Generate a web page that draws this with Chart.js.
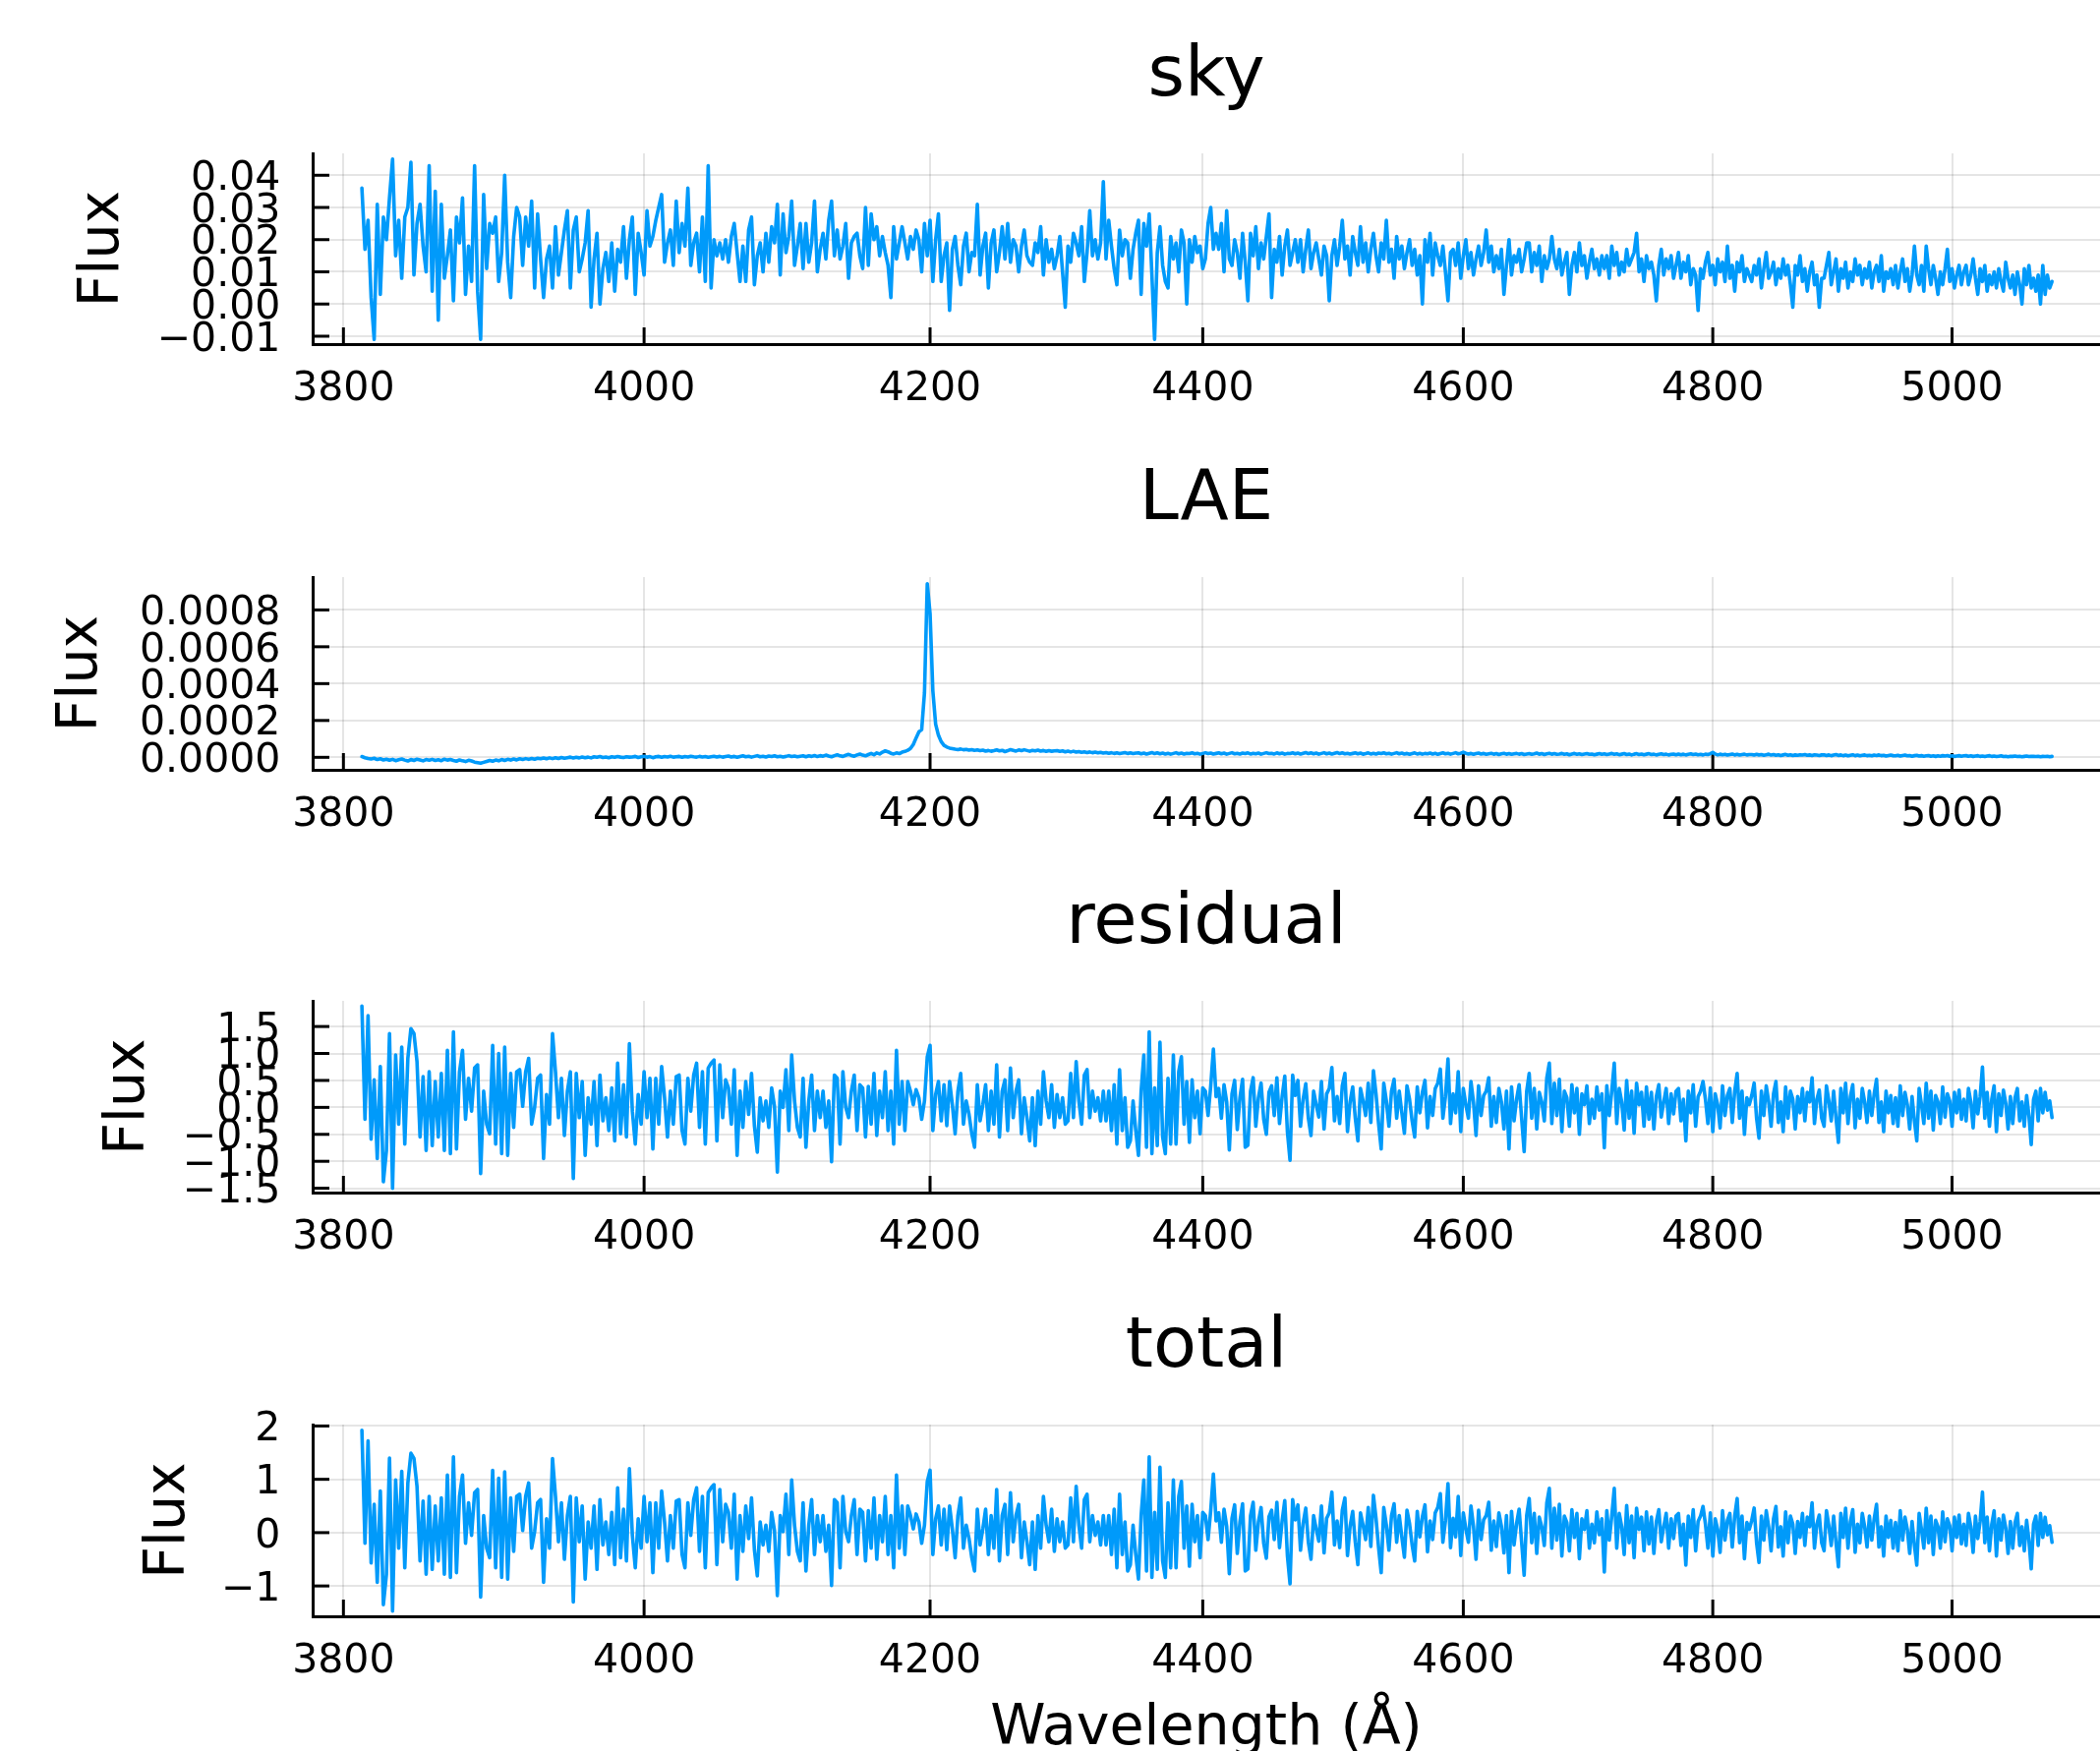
<!DOCTYPE html>
<html>
<head>
<meta charset="utf-8">
<title>sky / LAE / residual / total</title>
<script src="https://cdn.jsdelivr.net/npm/chart.js@4.4.1/dist/chart.umd.min.js"></script>
<style>
  html, body { margin: 0; padding: 0; background: #fff; }
  #figura { position: relative; width: 2136px; height: 1781px; overflow: hidden; background: #fff; }
  #figura canvas { position: absolute; left: 0; }
</style>
</head>
<body>
<div id="figura">
  <canvas id="graficoSky" width="2136" height="431" style="top:0px"></canvas>
  <canvas id="graficoLae" width="2136" height="431" style="top:431px"></canvas>
  <canvas id="graficoResidual" width="2136" height="431" style="top:862px"></canvas>
  <canvas id="graficoTotal" width="2136" height="488" style="top:1293px"></canvas>
</div>
<script>
// wavelength grid (Å): 3812 .. 5086, one sample every 2 Å (each row below = 60 Å)
const waveStart = 3812;
const waveStep = 2;

const xTicks = [3800, 4000, 4200, 4400, 4600, 4800, 5000];
const xTickLabels = ["3800", "4000", "4200", "4400", "4600", "4800", "5000"];

const skyTicks = [-0.01, 0.0, 0.01, 0.02, 0.03, 0.04];
const skyTickLabels = ["\u22120.01", "0.00", "0.01", "0.02", "0.03", "0.04"];
const laeTicks = [0, 0.0002, 0.0004, 0.0006, 0.0008];
const laeTickLabels = ["0.0000", "0.0002", "0.0004", "0.0006", "0.0008"];
const residualTicks = [-1.5, -1.0, -0.5, 0.0, 0.5, 1.0, 1.5];
const residualTickLabels = ["\u22121.5", "\u22121.0", "\u22120.5", "0.0", "0.5", "1.0", "1.5"];
const totalTicks = [-1, 0, 1, 2];
const totalTickLabels = ["\u22121", "0", "1", "2"];

const skyFlux = [
  0.036, 0.017, 0.026, 0.002, -0.011, 0.031, 0.003, 0.027, 0.020, 0.033, 0.045, 0.015, 0.026, 0.008, 0.027, 0.030, 0.044, 0.009, 0.025, 0.031, 0.018, 0.010, 0.043, 0.004, 0.035, -0.005, 0.031, 0.008, 0.015, 0.023,
  0.001, 0.027, 0.019, 0.033, 0.003, 0.018, 0.007, 0.043, 0.004, -0.011, 0.034, 0.011, 0.025, 0.022, 0.027, 0.007, 0.016, 0.040, 0.013, 0.002, 0.021, 0.030, 0.027, 0.012, 0.027, 0.018, 0.032, 0.005, 0.028, 0.014,
  0.002, 0.014, 0.018, 0.005, 0.024, 0.009, 0.016, 0.023, 0.029, 0.005, 0.023, 0.027, 0.010, 0.014, 0.019, 0.029, -0.001, 0.014, 0.022, 0.000, 0.011, 0.016, 0.007, 0.019, 0.004, 0.017, 0.013, 0.024, 0.008, 0.020,
  0.027, 0.003, 0.022, 0.016, 0.009, 0.029, 0.018, 0.021, 0.026, 0.030, 0.034, 0.013, 0.019, 0.023, 0.012, 0.032, 0.016, 0.025, 0.018, 0.036, 0.012, 0.019, 0.022, 0.010, 0.027, 0.007, 0.043, 0.005, 0.020, 0.015,
  0.019, 0.014, 0.020, 0.013, 0.021, 0.025, 0.016, 0.007, 0.018, 0.007, 0.023, 0.027, 0.006, 0.015, 0.019, 0.010, 0.022, 0.013, 0.024, 0.019, 0.031, 0.009, 0.028, 0.016, 0.021, 0.032, 0.012, 0.018, 0.025, 0.011,
  0.025, 0.013, 0.019, 0.032, 0.010, 0.017, 0.022, 0.014, 0.026, 0.032, 0.015, 0.023, 0.014, 0.018, 0.025, 0.008, 0.019, 0.021, 0.022, 0.015, 0.011, 0.030, 0.012, 0.028, 0.020, 0.024, 0.015, 0.021, 0.016, 0.012,
  0.002, 0.024, 0.014, 0.019, 0.024, 0.019, 0.014, 0.021, 0.017, 0.023, 0.020, 0.010, 0.025, 0.015, 0.026, 0.007, 0.020, 0.028, 0.007, 0.015, 0.019, -0.002, 0.017, 0.021, 0.012, 0.006, 0.018, 0.022, 0.010, 0.016,
  0.015, 0.031, 0.009, 0.018, 0.022, 0.005, 0.019, 0.023, 0.010, 0.016, 0.024, 0.014, 0.025, 0.013, 0.020, 0.018, 0.010, 0.018, 0.023, 0.015, 0.013, 0.012, 0.019, 0.016, 0.024, 0.009, 0.020, 0.013, 0.017, 0.011,
  0.015, 0.021, 0.010, -0.001, 0.018, 0.013, 0.022, 0.019, 0.015, 0.024, 0.007, 0.016, 0.029, 0.015, 0.020, 0.014, 0.019, 0.038, 0.014, 0.026, 0.018, 0.011, 0.006, 0.023, 0.015, 0.020, 0.019, 0.008, 0.017, 0.022,
  0.026, 0.003, 0.025, 0.018, 0.028, 0.009, -0.011, 0.016, 0.024, 0.012, 0.007, 0.005, 0.021, 0.014, 0.019, 0.010, 0.023, 0.019, 0.000, 0.020, 0.013, 0.021, 0.016, 0.018, 0.011, 0.014, 0.025, 0.030, 0.017, 0.022,
  0.017, 0.025, 0.010, 0.029, 0.014, 0.012, 0.020, 0.016, 0.008, 0.022, 0.013, 0.001, 0.022, 0.015, 0.024, 0.011, 0.019, 0.014, 0.021, 0.028, 0.002, 0.017, 0.013, 0.021, 0.009, 0.018, 0.023, 0.012, 0.016, 0.020,
  0.013, 0.020, 0.010, 0.017, 0.023, 0.011, 0.016, 0.019, 0.014, 0.009, 0.018, 0.015, 0.001, 0.015, 0.020, 0.012, 0.018, 0.026, 0.014, 0.018, 0.009, 0.021, 0.016, 0.012, 0.024, 0.013, 0.019, 0.010, 0.017, 0.022,
  0.015, 0.010, 0.019, 0.014, 0.026, 0.013, 0.017, 0.008, 0.021, 0.014, 0.018, 0.011, 0.016, 0.020, 0.012, 0.017, 0.009, 0.015, 0.000, 0.020, 0.013, 0.022, 0.009, 0.019, 0.015, 0.012, 0.018, 0.010, 0.001, 0.016,
  0.017, 0.012, 0.019, 0.008, 0.015, 0.020, 0.011, 0.016, 0.009, 0.014, 0.018, 0.012, 0.016, 0.023, 0.013, 0.018, 0.010, 0.015, 0.011, 0.017, 0.003, 0.012, 0.020, 0.009, 0.015, 0.013, 0.017, 0.010, 0.014, 0.019,
  0.019, 0.010, 0.016, 0.012, 0.018, 0.007, 0.015, 0.011, 0.014, 0.021, 0.014, 0.011, 0.017, 0.009, 0.013, 0.016, 0.003, 0.012, 0.016, 0.010, 0.019, 0.012, 0.015, 0.008, 0.013, 0.017, 0.011, 0.014, 0.009, 0.015,
  0.011, 0.015, 0.008, 0.018, 0.012, 0.016, 0.009, 0.013, 0.010, 0.017, 0.012, 0.014, 0.016, 0.022, 0.010, 0.014, 0.007, 0.015, 0.011, 0.013, 0.009, 0.001, 0.012, 0.017, 0.009, 0.014, 0.011, 0.015, 0.008, 0.012,
  0.016, 0.008, 0.013, 0.010, 0.015, 0.006, 0.011, 0.009, -0.002, 0.011, 0.008, 0.013, 0.016, 0.009, 0.012, 0.006, 0.014, 0.010, 0.013, 0.007, 0.018, 0.008, 0.012, 0.004, 0.013, 0.010, 0.015, 0.007, 0.011, 0.009,
  0.007, 0.012, 0.009, 0.014, 0.005, 0.011, 0.016, 0.008, 0.010, 0.013, 0.006, 0.011, 0.008, 0.014, 0.009, 0.012, 0.006, -0.001, 0.012, 0.009, 0.015, 0.007, 0.011, 0.004, 0.010, 0.013, 0.006, 0.009, -0.001, 0.008,
  0.008, 0.012, 0.016, 0.006, 0.010, 0.014, 0.004, 0.011, 0.008, 0.013, 0.005, 0.010, 0.007, 0.014, 0.009, 0.012, 0.006, 0.011, 0.008, 0.013, 0.005, 0.010, 0.012, 0.007, 0.015, 0.004, 0.010, 0.008, 0.011, 0.006,
  0.012, 0.005, 0.010, 0.014, 0.007, 0.011, 0.004, 0.009, 0.018, 0.009, 0.006, 0.012, 0.004, 0.018, 0.011, 0.006, 0.012, 0.008, 0.003, 0.010, 0.006, 0.011, 0.017, 0.007, 0.011, 0.005, 0.009, 0.012, 0.006, 0.010,
  0.012, 0.006, 0.009, 0.014, 0.008, 0.003, 0.011, 0.007, 0.012, 0.004, 0.009, 0.006, 0.010, 0.005, 0.011, 0.007, 0.004, 0.013, 0.008, 0.005, 0.009, 0.003, 0.010, 0.006, 0.000, 0.011, 0.006, 0.012, 0.005, 0.008,
  0.004, 0.009, 0.000, 0.012, 0.003, 0.009, 0.005, 0.007,
];

const laeFlux = [
  4e-6, -2e-6, -6e-6, -9e-6, -5e-6, -12e-6, -8e-6, -14e-6, -10e-6, -16e-6, -11e-6, -18e-6, -13e-6, -9e-6, -15e-6, -20e-6, -12e-6, -17e-6, -10e-6, -14e-6, -19e-6, -12e-6, -16e-6, -11e-6, -17e-6, -13e-6, -18e-6, -10e-6, -15e-6, -12e-6,
  -17e-6, -21e-6, -14e-6, -19e-6, -23e-6, -16e-6, -20e-6, -26e-6, -29e-6, -32e-6, -27e-6, -22e-6, -17e-6, -21e-6, -15e-6, -19e-6, -12e-6, -17e-6, -11e-6, -15e-6, -9e-6, -14e-6, -8e-6, -12e-6, -7e-6, -11e-6, -6e-6, -10e-6, -5e-6, -8e-6,
  -4e-6, -8e-6, -3e-6, -7e-6, -2e-6, -6e-6, -1e-6, -5e-6, -2e-6, 1e-6, -4e-6, 0, -3e-6, 2e-6, -2e-6, 1e-6, -3e-6, 3e-6, 0, 4e-6, -1e-6, 2e-6, -2e-6, 3e-6, 0, 4e-6, 1e-6, -1e-6, 3e-6, 1e-6,
  2e-6, 5e-6, -1e-6, 3e-6, 6e-6, 1e-6, 4e-6, -2e-6, 3e-6, 5e-6, 0, 4e-6, 2e-6, 6e-6, 1e-6, 3e-6, 5e-6, 0, 4e-6, 2e-6, 6e-6, 3e-6, 1e-6, 5e-6, 2e-6, 4e-6, 0, 3e-6, 6e-6, 2e-6,
  5e-6, 1e-6, 4e-6, 7e-6, 2e-6, 5e-6, 0, 4e-6, 8e-6, 3e-6, 6e-6, 1e-6, 5e-6, 9e-6, 3e-6, 6e-6, 2e-6, 7e-6, 4e-6, 8e-6, 3e-6, 6e-6, 2e-6, 5e-6, 9e-6, 4e-6, 7e-6, 3e-6, 6e-6, 8e-6,
  3e-6, 8e-6, 5e-6, 10e-6, 4e-6, 9e-6, 6e-6, 12e-6, 7e-6, 3e-6, 9e-6, 14e-6, 8e-6, 5e-6, 11e-6, 16e-6, 10e-6, 6e-6, 13e-6, 18e-6, 12e-6, 8e-6, 15e-6, 21e-6, 14e-6, 24e-6, 18e-6, 28e-6, 35e-6, 30e-6,
  22e-6, 18e-6, 24e-6, 20e-6, 28e-6, 32e-6, 38e-6, 48e-6, 70e-6, 105e-6, 138e-6, 150e-6, 350e-6, 942e-6, 780e-6, 360e-6, 180e-6, 120e-6, 85e-6, 65e-6, 56e-6, 50e-6, 47e-6, 44e-6, 42e-6, 45e-6, 41e-6, 43e-6, 39e-6, 42e-6,
  38e-6, 40e-6, 36e-6, 39e-6, 34e-6, 37e-6, 33e-6, 36e-6, 40e-6, 35e-6, 38e-6, 31e-6, 36e-6, 42e-6, 38e-6, 34e-6, 40e-6, 36e-6, 41e-6, 37e-6, 33e-6, 38e-6, 35e-6, 39e-6, 34e-6, 37e-6, 32e-6, 36e-6, 33e-6, 35e-6,
  36e-6, 32e-6, 35e-6, 30e-6, 34e-6, 29e-6, 33e-6, 28e-6, 31e-6, 27e-6, 30e-6, 26e-6, 29e-6, 25e-6, 28e-6, 24e-6, 27e-6, 23e-6, 26e-6, 22e-6, 25e-6, 21e-6, 24e-6, 20e-6, 23e-6, 26e-6, 21e-6, 24e-6, 20e-6, 23e-6,
  24e-6, 19e-6, 23e-6, 18e-6, 22e-6, 26e-6, 20e-6, 24e-6, 19e-6, 23e-6, 18e-6, 22e-6, 17e-6, 21e-6, 25e-6, 19e-6, 23e-6, 18e-6, 22e-6, 20e-6, 24e-6, 19e-6, 22e-6, 17e-6, 21e-6, 25e-6, 20e-6, 23e-6, 18e-6, 21e-6,
  24e-6, 19e-6, 23e-6, 17e-6, 21e-6, 25e-6, 19e-6, 22e-6, 18e-6, 23e-6, 20e-6, 24e-6, 18e-6, 22e-6, 19e-6, 23e-6, 17e-6, 21e-6, 25e-6, 20e-6, 22e-6, 18e-6, 24e-6, 19e-6, 23e-6, 17e-6, 21e-6, 20e-6, 24e-6, 19e-6,
  23e-6, 18e-6, 22e-6, 26e-6, 20e-6, 24e-6, 19e-6, 23e-6, 17e-6, 21e-6, 25e-6, 19e-6, 23e-6, 18e-6, 22e-6, 26e-6, 20e-6, 24e-6, 19e-6, 22e-6, 18e-6, 21e-6, 24e-6, 19e-6, 23e-6, 17e-6, 20e-6, 24e-6, 18e-6, 22e-6,
  18e-6, 23e-6, 20e-6, 24e-6, 19e-6, 22e-6, 17e-6, 21e-6, 25e-6, 19e-6, 23e-6, 18e-6, 21e-6, 16e-6, 20e-6, 24e-6, 18e-6, 22e-6, 17e-6, 21e-6, 19e-6, 23e-6, 18e-6, 22e-6, 16e-6, 20e-6, 24e-6, 19e-6, 22e-6, 17e-6,
  21e-6, 25e-6, 19e-6, 22e-6, 28e-6, 22e-6, 18e-6, 21e-6, 16e-6, 20e-6, 23e-6, 18e-6, 21e-6, 16e-6, 19e-6, 22e-6, 17e-6, 20e-6, 15e-6, 19e-6, 22e-6, 17e-6, 20e-6, 16e-6, 19e-6, 21e-6, 17e-6, 20e-6, 15e-6, 18e-6,
  20e-6, 16e-6, 19e-6, 23e-6, 17e-6, 20e-6, 15e-6, 19e-6, 22e-6, 17e-6, 20e-6, 16e-6, 18e-6, 21e-6, 16e-6, 19e-6, 14e-6, 18e-6, 21e-6, 16e-6, 19e-6, 15e-6, 18e-6, 20e-6, 16e-6, 18e-6, 14e-6, 17e-6, 20e-6, 16e-6,
  19e-6, 15e-6, 18e-6, 21e-6, 16e-6, 19e-6, 14e-6, 17e-6, 20e-6, 15e-6, 18e-6, 13e-6, 17e-6, 20e-6, 15e-6, 18e-6, 14e-6, 17e-6, 20e-6, 15e-6, 17e-6, 13e-6, 16e-6, 19e-6, 15e-6, 17e-6, 13e-6, 16e-6, 18e-6, 14e-6,
  18e-6, 14e-6, 17e-6, 13e-6, 16e-6, 19e-6, 15e-6, 18e-6, 14e-6, 16e-6, 13e-6, 17e-6, 15e-6, 20e-6, 27e-6, 18e-6, 13e-6, 17e-6, 14e-6, 16e-6, 12e-6, 15e-6, 18e-6, 13e-6, 16e-6, 12e-6, 15e-6, 17e-6, 13e-6, 15e-6,
  15e-6, 12e-6, 16e-6, 13e-6, 15e-6, 11e-6, 14e-6, 17e-6, 12e-6, 15e-6, 11e-6, 14e-6, 10e-6, 13e-6, 16e-6, 11e-6, 14e-6, 10e-6, 13e-6, 11e-6, 14e-6, 12e-6, 15e-6, 11e-6, 13e-6, 10e-6, 14e-6, 12e-6, 10e-6, 13e-6,
  14e-6, 10e-6, 13e-6, 9e-6, 12e-6, 15e-6, 10e-6, 13e-6, 9e-6, 12e-6, 8e-6, 11e-6, 14e-6, 9e-6, 12e-6, 8e-6, 11e-6, 13e-6, 9e-6, 11e-6, 8e-6, 12e-6, 10e-6, 13e-6, 9e-6, 11e-6, 7e-6, 10e-6, 12e-6, 9e-6,
  8e-6, 11e-6, 7e-6, 10e-6, 12e-6, 8e-6, 10e-6, 6e-6, 9e-6, 11e-6, 7e-6, 9e-6, 6e-6, 8e-6, 10e-6, 6e-6, 8e-6, 5e-6, 8e-6, 6e-6, 9e-6, 7e-6, 10e-6, 6e-6, 8e-6, 5e-6, 7e-6, 9e-6, 6e-6, 8e-6,
  9e-6, 6e-6, 8e-6, 5e-6, 7e-6, 9e-6, 5e-6, 7e-6, 4e-6, 7e-6, 9e-6, 5e-6, 7e-6, 4e-6, 6e-6, 8e-6, 4e-6, 6e-6, 3e-6, 6e-6, 5e-6, 7e-6, 4e-6, 6e-6, 3e-6, 5e-6, 7e-6, 4e-6, 6e-6, 5e-6,
  4e-6, 6e-6, 3e-6, 5e-6, 4e-6, 6e-6, 3e-6, 5e-6,
];

const residualFlux = [
  1.88, -0.22, 1.70, -0.59, 0.51, -0.95, 0.76, -1.38, -0.80, 1.37, -1.50, 0.97, -0.31, 1.12, -0.68, 0.91, 1.46, 1.37, 0.85, -0.55, 0.57, -0.80, 0.66, -0.71, 0.48, -0.55, 0.63, -0.80, 1.06, -0.86,
  1.40, -0.77, 0.66, 1.06, -0.22, 0.54, -0.07, 0.73, 0.79, -1.23, 0.30, -0.31, -0.49, 1.15, -0.68, 1.00, -0.86, 1.12, -0.89, 0.63, -0.37, 0.66, 0.70, 0.02, 0.66, 0.91, -0.31, 0.00, 0.54, 0.60,
  -0.95, 0.24, -0.31, 1.37, 0.66, -0.19, 0.54, -0.52, 0.30, 0.66, -1.32, 0.63, -0.19, 0.48, -0.89, 0.18, -0.31, 0.48, -0.71, 0.60, -0.25, 0.18, -0.43, 0.36, -0.62, 0.82, -0.49, 0.42, -0.55, 1.18,
  -0.07, -0.68, 0.24, -0.31, 0.66, -0.19, 0.54, -0.77, 0.54, -0.31, 0.76, 0.18, -0.55, 0.30, -0.31, 0.57, 0.60, -0.43, -0.68, 0.54, -0.07, 0.60, 0.82, -0.37, 0.66, -0.68, 0.73, 0.82, 0.88, -0.62,
  0.79, -0.19, 0.51, 0.36, -0.31, 0.70, -0.89, 0.30, -0.37, 0.48, -0.13, 0.63, -0.34, -0.83, 0.18, -0.25, 0.12, -0.37, 0.36, 0.02, -1.20, 0.30, 0.00, 0.70, -0.43, 0.97, 0.12, -0.37, -0.55, 0.54,
  -0.74, 0.12, 0.60, -0.43, 0.30, -0.19, 0.30, -0.37, 0.12, -1.01, 0.60, 0.54, -0.68, 0.66, 0.00, -0.19, 0.30, 0.60, -0.43, 0.42, 0.36, -0.55, 0.39, -0.31, 0.63, -0.52, 0.30, -0.19, 0.66, -0.43,
  0.30, -0.68, 1.06, -0.31, 0.48, -0.43, 0.48, 0.30, 0.05, 0.33, 0.18, -0.22, 0.12, 0.94, 1.15, -0.43, 0.24, 0.48, -0.25, 0.42, -0.34, 0.48, 0.05, -0.49, 0.30, 0.63, -0.31, 0.12, -0.13, -0.49,
  -0.74, 0.42, -0.25, 0.05, 0.42, -0.43, 0.30, -0.31, 0.79, -0.55, 0.30, 0.51, -0.43, 0.73, -0.19, 0.30, 0.51, -0.49, 0.18, -0.19, -0.62, 0.18, -0.71, 0.30, -0.31, 0.66, 0.12, -0.19, 0.42, -0.37,
  0.24, -0.19, 0.18, -0.31, -0.25, 0.63, -0.19, 0.85, 0.12, -0.31, 0.60, 0.70, -0.19, 0.30, -0.07, 0.18, -0.25, 0.30, -0.25, 0.30, -0.43, 0.42, -0.68, 0.70, -0.43, 0.18, -0.74, -0.62, 0.12, -0.43,
  -0.89, 0.30, 0.97, -0.74, 1.40, -0.86, 0.36, -0.71, 1.21, -0.55, -0.86, 0.54, -0.68, 0.97, -0.68, 0.66, 0.94, -0.31, 0.48, -0.65, 0.51, -0.19, 0.30, -0.49, 0.36, 0.30, -0.15, 0.40, 1.08, 0.20,
  0.35, -0.20, 0.42, 0.10, -0.79, 0.25, 0.50, -0.41, 0.18, 0.52, -0.74, -0.70, 0.30, 0.55, -0.35, 0.18, 0.45, -0.22, -0.50, 0.28, 0.40, -0.15, 0.55, -0.30, 0.20, 0.58, -0.45, -0.98, 0.60, 0.22,
  0.50, -0.35, 0.15, 0.44, -0.20, -0.52, 0.30, 0.05, -0.18, 0.48, -0.40, 0.25, 0.35, 0.74, -0.25, 0.20, -0.30, 0.40, 0.63, -0.45, 0.10, 0.38, -0.20, -0.62, 0.35, 0.12, -0.15, 0.45, -0.28, 0.68,
  0.25, -0.30, -0.77, 0.45, 0.12, -0.35, 0.30, 0.52, -0.20, 0.30, -0.10, -0.48, 0.40, 0.15, -0.25, -0.55, 0.38, -0.10, 0.28, 0.50, -0.38, 0.20, -0.15, 0.35, 0.45, 0.71, -0.20, 0.20, 0.90, -0.30,
  0.25, -0.10, 0.66, -0.45, 0.35, 0.05, -0.20, 0.48, 0.10, -0.52, 0.40, -0.15, 0.22, 0.30, 0.55, -0.35, 0.20, -0.28, 0.35, 0.10, -0.40, 0.30, -0.77, 0.38, -0.25, 0.15, 0.42, -0.20, -0.82, 0.30,
  0.63, -0.20, 0.35, -0.40, 0.28, 0.10, -0.25, 0.55, 0.82, -0.30, 0.45, -0.15, 0.52, -0.45, 0.30, 0.18, -0.35, 0.42, -0.10, 0.35, -0.50, 0.25, 0.05, 0.40, -0.30, 0.15, -0.20, 0.38, -0.05, 0.25,
  -0.75, 0.40, -0.15, 0.30, 0.82, -0.30, 0.35, 0.10, -0.42, 0.50, -0.20, 0.30, -0.48, 0.45, 0.05, 0.28, -0.35, 0.38, -0.22, 0.28, -0.40, 0.20, 0.42, -0.18, 0.10, 0.35, -0.30, 0.25, -0.12, 0.30,
  0.35, -0.25, 0.15, -0.62, 0.30, -0.10, 0.42, -0.35, 0.20, 0.30, 0.48, 0.15, -0.30, 0.36, -0.45, 0.25, 0.05, -0.38, 0.40, -0.15, 0.22, 0.35, -0.28, 0.30, 0.63, -0.20, 0.30, -0.50, 0.18, 0.05,
  0.22, 0.45, -0.20, -0.57, 0.30, -0.15, 0.40, 0.10, -0.35, 0.25, 0.48, -0.28, 0.10, -0.45, 0.38, -0.20, 0.30, 0.15, -0.40, 0.20, -0.10, 0.35, -0.25, 0.28, 0.10, 0.55, -0.30, 0.15, 0.32, -0.20,
  -0.35, 0.40, 0.12, -0.25, 0.30, -0.20, -0.65, 0.35, -0.10, 0.45, -0.30, 0.20, 0.42, -0.38, 0.15, -0.20, 0.35, 0.10, -0.28, 0.30, -0.15, 0.25, 0.52, -0.28, 0.10, -0.45, 0.30, -0.10, 0.22, -0.30,
  0.18, -0.35, 0.40, -0.15, 0.28, 0.05, -0.40, 0.20, -0.25, -0.62, 0.35, 0.05, -0.30, 0.45, -0.20, 0.30, -0.42, 0.22, 0.10, -0.30, 0.38, -0.18, 0.25, 0.12, -0.35, 0.28, -0.10, 0.32, -0.22, 0.15,
  -0.25, 0.35, 0.10, -0.38, 0.30, -0.12, 0.20, 0.75, -0.20, 0.28, -0.35, 0.15, 0.40, -0.45, 0.25, -0.15, 0.32, 0.08, -0.40, 0.20, -0.30, 0.18, 0.35, -0.25, 0.10, -0.35, 0.22, -0.15, -0.69, 0.15,
  0.30, -0.25, 0.35, -0.10, 0.28, -0.05, 0.12, -0.19,
];

const totalFlux = [
  1.92, -0.20, 1.72, -0.57, 0.53, -0.93, 0.78, -1.35, -0.78, 1.40, -1.47, 0.99, -0.29, 1.15, -0.66, 0.93, 1.49, 1.39, 0.87, -0.53, 0.59, -0.78, 0.68, -0.69, 0.50, -0.53, 0.65, -0.78, 1.08, -0.84,
  1.42, -0.75, 0.68, 1.08, -0.20, 0.56, -0.05, 0.75, 0.81, -1.21, 0.32, -0.29, -0.47, 1.17, -0.66, 1.02, -0.84, 1.14, -0.87, 0.65, -0.35, 0.68, 0.72, 0.04, 0.68, 0.93, -0.29, 0.02, 0.56, 0.62,
  -0.93, 0.26, -0.29, 1.39, 0.68, -0.17, 0.56, -0.50, 0.32, 0.68, -1.30, 0.65, -0.17, 0.50, -0.87, 0.20, -0.29, 0.50, -0.69, 0.62, -0.23, 0.20, -0.41, 0.38, -0.60, 0.84, -0.47, 0.44, -0.53, 1.20,
  -0.05, -0.66, 0.26, -0.29, 0.68, -0.17, 0.56, -0.75, 0.56, -0.29, 0.78, 0.20, -0.53, 0.32, -0.29, 0.59, 0.62, -0.41, -0.66, 0.56, -0.05, 0.62, 0.84, -0.35, 0.68, -0.66, 0.75, 0.84, 0.90, -0.60,
  0.81, -0.17, 0.53, 0.38, -0.29, 0.72, -0.87, 0.32, -0.35, 0.50, -0.11, 0.65, -0.32, -0.81, 0.20, -0.23, 0.14, -0.35, 0.38, 0.04, -1.18, 0.32, 0.02, 0.72, -0.41, 0.99, 0.14, -0.35, -0.53, 0.56,
  -0.72, 0.14, 0.62, -0.41, 0.32, -0.17, 0.32, -0.35, 0.14, -0.99, 0.62, 0.56, -0.66, 0.68, 0.02, -0.17, 0.32, 0.62, -0.41, 0.44, 0.38, -0.53, 0.41, -0.29, 0.65, -0.50, 0.32, -0.17, 0.68, -0.41,
  0.32, -0.66, 1.08, -0.29, 0.50, -0.41, 0.50, 0.32, 0.07, 0.35, 0.20, -0.20, 0.14, 0.96, 1.17, -0.41, 0.26, 0.50, -0.23, 0.44, -0.32, 0.50, 0.07, -0.47, 0.32, 0.65, -0.29, 0.14, -0.11, -0.47,
  -0.72, 0.44, -0.23, 0.07, 0.44, -0.41, 0.32, -0.29, 0.81, -0.53, 0.32, 0.53, -0.41, 0.75, -0.17, 0.32, 0.53, -0.47, 0.20, -0.17, -0.60, 0.20, -0.69, 0.32, -0.29, 0.68, 0.14, -0.17, 0.44, -0.35,
  0.26, -0.17, 0.20, -0.29, -0.23, 0.65, -0.17, 0.87, 0.14, -0.29, 0.62, 0.72, -0.17, 0.32, -0.05, 0.20, -0.23, 0.32, -0.23, 0.32, -0.41, 0.44, -0.66, 0.72, -0.41, 0.20, -0.72, -0.60, 0.14, -0.41,
  -0.87, 0.32, 0.99, -0.72, 1.42, -0.84, 0.38, -0.69, 1.23, -0.53, -0.84, 0.56, -0.66, 0.99, -0.66, 0.68, 0.96, -0.29, 0.50, -0.63, 0.53, -0.17, 0.32, -0.47, 0.38, 0.32, -0.13, 0.42, 1.10, 0.22,
  0.37, -0.18, 0.44, 0.12, -0.77, 0.27, 0.52, -0.39, 0.20, 0.54, -0.72, -0.68, 0.32, 0.57, -0.33, 0.20, 0.47, -0.20, -0.48, 0.30, 0.42, -0.13, 0.57, -0.28, 0.22, 0.60, -0.43, -0.96, 0.62, 0.24,
  0.52, -0.33, 0.17, 0.46, -0.18, -0.50, 0.32, 0.07, -0.16, 0.50, -0.38, 0.27, 0.37, 0.76, -0.23, 0.22, -0.28, 0.42, 0.65, -0.43, 0.12, 0.40, -0.18, -0.60, 0.37, 0.14, -0.13, 0.47, -0.26, 0.70,
  0.27, -0.28, -0.75, 0.47, 0.14, -0.33, 0.32, 0.54, -0.18, 0.32, -0.08, -0.46, 0.42, 0.17, -0.23, -0.53, 0.40, -0.08, 0.30, 0.52, -0.36, 0.22, -0.13, 0.37, 0.47, 0.73, -0.18, 0.22, 0.92, -0.28,
  0.27, -0.08, 0.68, -0.43, 0.37, 0.07, -0.18, 0.50, 0.12, -0.50, 0.42, -0.13, 0.24, 0.32, 0.57, -0.33, 0.22, -0.26, 0.37, 0.12, -0.38, 0.32, -0.75, 0.40, -0.23, 0.17, 0.44, -0.18, -0.80, 0.32,
  0.64, -0.19, 0.36, -0.39, 0.29, 0.11, -0.24, 0.56, 0.83, -0.29, 0.46, -0.14, 0.53, -0.44, 0.31, 0.19, -0.34, 0.43, -0.09, 0.36, -0.49, 0.26, 0.06, 0.41, -0.29, 0.16, -0.19, 0.39, -0.04, 0.26,
  -0.74, 0.41, -0.14, 0.31, 0.83, -0.29, 0.36, 0.11, -0.41, 0.51, -0.19, 0.31, -0.47, 0.46, 0.06, 0.29, -0.34, 0.39, -0.21, 0.29, -0.39, 0.21, 0.43, -0.17, 0.11, 0.36, -0.29, 0.26, -0.11, 0.31,
  0.36, -0.24, 0.16, -0.61, 0.31, -0.09, 0.43, -0.34, 0.21, 0.31, 0.49, 0.16, -0.29, 0.37, -0.44, 0.26, 0.06, -0.37, 0.41, -0.14, 0.23, 0.36, -0.27, 0.31, 0.64, -0.19, 0.31, -0.49, 0.19, 0.06,
  0.23, 0.46, -0.19, -0.56, 0.31, -0.14, 0.41, 0.11, -0.34, 0.26, 0.49, -0.27, 0.11, -0.44, 0.39, -0.19, 0.31, 0.16, -0.39, 0.21, -0.09, 0.36, -0.24, 0.29, 0.11, 0.56, -0.29, 0.16, 0.33, -0.19,
  -0.34, 0.41, 0.13, -0.24, 0.31, -0.19, -0.64, 0.36, -0.09, 0.46, -0.29, 0.21, 0.43, -0.37, 0.16, -0.19, 0.36, 0.11, -0.27, 0.31, -0.14, 0.26, 0.53, -0.27, 0.11, -0.44, 0.31, -0.09, 0.23, -0.29,
  0.19, -0.34, 0.41, -0.14, 0.29, 0.06, -0.39, 0.21, -0.24, -0.61, 0.36, 0.06, -0.29, 0.46, -0.19, 0.31, -0.41, 0.23, 0.11, -0.29, 0.39, -0.17, 0.26, 0.13, -0.34, 0.29, -0.09, 0.33, -0.21, 0.16,
  -0.24, 0.36, 0.11, -0.37, 0.31, -0.11, 0.21, 0.76, -0.19, 0.29, -0.34, 0.16, 0.41, -0.44, 0.26, -0.14, 0.33, 0.09, -0.39, 0.21, -0.29, 0.19, 0.36, -0.24, 0.11, -0.34, 0.23, -0.14, -0.68, 0.16,
  0.31, -0.24, 0.36, -0.09, 0.29, -0.04, 0.13, -0.18,
];

const wavelength = skyFlux.map((_, i) => waveStart + waveStep * i);

Chart.defaults.font.family = "'DejaVu Sans', sans-serif";
Chart.defaults.color = "#000";

const colorLinea = "#009afa";
const colorGrilla = "rgba(0, 0, 0, 0.1)";

// Plots.jl style: tick marks drawn inside the frame
const marcasInternas = {
  id: "marcasInternas",
  beforeDatasetsDraw(chart) {
    const { ctx, chartArea, scales } = chart;
    ctx.save();
    ctx.strokeStyle = "#000";
    ctx.lineWidth = 3;
    scales.x.ticks.forEach((t) => {
      const px = scales.x.getPixelForValue(t.value);
      ctx.beginPath();
      ctx.moveTo(px, chartArea.bottom);
      ctx.lineTo(px, chartArea.bottom - 17);
      ctx.stroke();
    });
    scales.y.ticks.forEach((t) => {
      const py = scales.y.getPixelForValue(t.value);
      ctx.beginPath();
      ctx.moveTo(chartArea.left, py);
      ctx.lineTo(chartArea.left + 17, py);
      ctx.stroke();
    });
    ctx.restore();
  },
};

function pintarPanel(id, panel) {
  const ctx = document.getElementById(id);
  const puntos = wavelength.map((w, i) => ({ x: w, y: panel.flux[i] }));

  const cfg = {
    type: "line",
    data: {
      datasets: [
        {
          data: puntos,
          borderColor: colorLinea,
          borderWidth: 3.6,
          borderJoinStyle: "round",
          borderCapStyle: "round",
          pointRadius: 0,
          tension: 0,
          fill: false,
        },
      ],
    },
    options: {
      responsive: false,
      animation: false,
      devicePixelRatio: 1,
      events: [],
      layout: { padding: { left: panel.padLeft, right: 0, top: 0, bottom: 0 } },
      plugins: {
        legend: { display: false },
        tooltip: { enabled: false },
        title: {
          display: true,
          text: panel.title,
          fullSize: false,
          color: "#000",
          font: { size: 72, weight: "normal", lineHeight: 1 },
          padding: { top: 42.6, bottom: 41.4 },
        },
      },
      scales: {
        x: {
          type: "logarithmic",
          min: 3780.1,
          max: 5127.8,
          afterBuildTicks: (scale) => {
            scale.ticks = xTicks.map((v) => ({ value: v }));
          },
          afterFit: (scale) => {
            scale.height = panel.xHeight;
          },
          ticks: {
            autoSkip: false,
            maxRotation: 0,
            minRotation: 0,
            padding: 26,
            font: { size: 41, lineHeight: 1 },
            callback: (v, i) => xTickLabels[i],
          },
          grid: { color: colorGrilla, lineWidth: 2, drawTicks: false },
          border: { display: true, color: "#000", width: 3 },
          title: {
            display: panel.showXTitle,
            text: "Wavelength (Å)",
            font: { size: 57, lineHeight: 0.75 },
            padding: 0,
          },
        },
        y: {
          type: "linear",
          min: panel.yMin,
          max: panel.yMax,
          afterBuildTicks: (scale) => {
            scale.ticks = panel.yTicks.map((v) => ({ value: v }));
          },
          afterFit: (scale) => {
            scale.width = 318 - panel.padLeft;
          },
          ticks: {
            autoSkip: false,
            padding: 32.6,
            labelOffset: 4,
            font: { size: 41, lineHeight: 1 },
            callback: (v, i) => panel.yLabels[i],
          },
          grid: { color: colorGrilla, lineWidth: 2, drawTicks: false },
          border: { display: true, color: "#000", width: 3 },
          title: {
            display: true,
            text: "Flux",
            font: { size: 57, lineHeight: 1 },
            padding: 0,
          },
        },
      },
    },
    plugins: [marcasInternas],
  };

  return new Chart(ctx, cfg);
}

pintarPanel("graficoSky", {
  title: "sky", flux: skyFlux, yMin: -0.01245, yMax: 0.0468,
  yTicks: skyTicks, yLabels: skyTickLabels, padLeft: 76.5, xHeight: 81, showXTitle: false,
});
pintarPanel("graficoLae", {
  title: "LAE", flux: laeFlux, yMin: -0.0000677, yMax: 0.000978,
  yTicks: laeTicks, yLabels: laeTickLabels, padLeft: 55, xHeight: 79, showXTitle: false,
});
pintarPanel("graficoResidual", {
  title: "residual", flux: residualFlux, yMin: -1.58, yMax: 1.976,
  yTicks: residualTicks, yLabels: residualTickLabels, padLeft: 103, xHeight: 80, showXTitle: false,
});
pintarPanel("graficoTotal", {
  title: "total", flux: totalFlux, yMin: -1.569, yMax: 2.026,
  yTicks: totalTicks, yLabels: totalTickLabels, padLeft: 144, xHeight: 137, showXTitle: true,
});
</script>
</body>
</html>
